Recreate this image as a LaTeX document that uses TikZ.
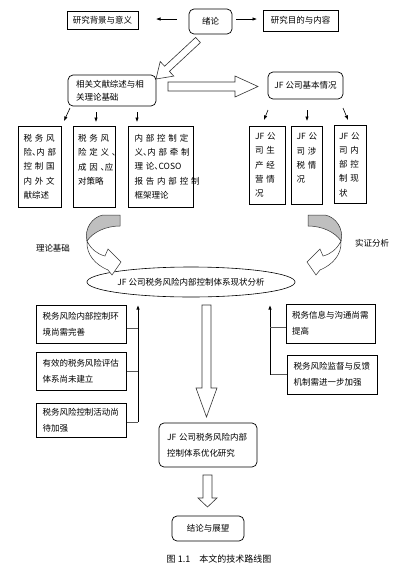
\documentclass[tikz,border=0pt]{standalone}
\usepackage{fontspec}
\setmainfont{Noto Sans CJK SC}
\usetikzlibrary{arrows.meta,shapes.geometric,calc}
\newcommand\jl[2]{\makebox[#1][s]{#2}}
\newcommand\dun{\makebox[.5em][l]{、}}
\begin{document}
\begin{tikzpicture}[x=1pt,y=-1pt,
  every node/.style={font=\fontsize{8.5}{12}\selectfont, inner sep=0pt},
  rbox/.style={draw, rounded corners=5pt, line width=0.7pt},
  sbox/.style={draw, line width=1pt},
  vbox/.style={draw, line width=1pt, align=left, font=\fontsize{8.5}{14.3}\selectfont},
  lbox/.style={draw, line width=1pt, align=left, font=\fontsize{8.5}{15.7}\selectfont},
  conn/.style={line width=0.6pt, -{Latex[length=4.5pt,width=3.5pt]}},
  lnk/.style={line width=1pt, draw=black!65},
  blk/.style={draw=black!80, line width=0.6pt, fill=white, line join=miter},
  curlgray/.style={draw=black!80, line width=0.5pt, fill=black!25},
  curlwhite/.style={draw=black!80, line width=0.5pt, fill=white},
]
\useasboundingbox (0,0) rectangle (408,574);

% top row
\node[rbox, minimum width=43pt, minimum height=25pt] (xulun) at (210.5,21.5) {绪论};
\node[sbox, minimum width=71pt, minimum height=18pt] (bg) at (102.5,20) {研究背景与意义};
\node[sbox, minimum width=75pt, minimum height=21pt] (goal) at (300.5,20.5) {研究目的与内容};
\coordinate (a1s) at (177,19); \coordinate (a1e) at (156,19);
\coordinate (a2s) at (236,19); \coordinate (a2e) at (257,19);
\draw[conn] (a1s) -- (a1e);
\draw[conn] (a2s) -- (a2e);

% diagonal hollow arrow
\draw[blk] (195.6,37.4) -- (164.6,66.2) -- (160.2,61.5) -- (156,79) -- (173.8,76.1) -- (169.4,71.4) -- (200.4,42.6) -- cycle;

% second row
\node[rbox, minimum width=88pt, minimum height=31pt, text width=72pt, align=left,
      font=\fontsize{8.5}{12.5}\selectfont] (lit) at (112,90.5) {相关文献综述与相\\关理论基础};
\node[rbox, minimum width=75pt, minimum height=27pt] (jf) at (305.5,85.5) {JF 公司基本情况};
\draw[blk] (168,82) -- (235,82) -- (235,76) -- (258,86.5) -- (235,97) -- (235,91) -- (168,91) -- cycle;

% small arrows
\coordinate (s1a) at (70,108);  \coordinate (s1b) at (64,121);
\coordinate (s2a) at (96,112);  \coordinate (s2b) at (96,122);
\coordinate (s3a) at (137,112); \coordinate (s3b) at (137,122);
\coordinate (s4a) at (268,110); \coordinate (s4b) at (264,120);
\coordinate (s5a) at (307,110); \coordinate (s5b) at (307,121);
\coordinate (s6a) at (343,108); \coordinate (s6b) at (348,120);
\foreach \i in {1,...,6} {\draw[conn] (s\i a) -- (s\i b);}

% vertical boxes
\node[vbox, minimum width=43pt, minimum height=81pt, text width=32pt] (v1) at (39.5,166.5)
  {\jl{32pt}{税 务 风}\\\jl{32pt}{险\dun 内 部}\\\jl{32pt}{控 制 国}\\\jl{32pt}{内 外 文}\\献综述};
\node[vbox, minimum width=42pt, minimum height=81pt, text width=32pt] (v2) at (94,166.5)
  {\jl{32pt}{税 务 风}\\\jl{32pt}{险 定 义 \dun}\\\jl{32pt}{成 因 \dun 应}\\对策略\\\mbox{}};
\node[vbox, minimum width=65pt, minimum height=81pt, text width=52pt] (v3) at (160.5,166.5)
  {\jl{52pt}{内 部 控 制 定}\\\jl{52pt}{义\dun 内 部 牵 制}\\\jl{52pt}{理 论\dun COSO}\\\jl{52pt}{报 告 内 部 控 制}\\框架理论};
\node[vbox, minimum width=36pt, minimum height=78pt, text width=24pt] (v4) at (267,165)
  {\jl{24pt}{JF 公}\\\jl{24pt}{司 生}\\\jl{24pt}{产 经}\\\jl{24pt}{营 情}\\况};
\node[vbox, minimum width=31pt, minimum height=78pt, text width=20pt] (v5) at (306.5,165)
  {\jl{20pt}{JF 公}\\\jl{20pt}{司 涉}\\\jl{20pt}{税 情}\\况\\\mbox{}};
\node[vbox, minimum width=32pt, minimum height=78pt, text width=22pt] (v6) at (350,164.5)
  {\jl{22pt}{JF 公}\\\jl{22pt}{司 内}\\\jl{22pt}{部 控}\\\jl{22pt}{制 现}\\状};

% ellipse
\node[ellipse, draw, line width=0.6pt, minimum width=182pt, minimum height=30pt] (ell) at (191,282)
  {JF 公司税务风险内部控制体系现状分析};

% curved arrows
\draw[curlgray] (103,215) -- (120,215) -- (120,226) .. controls (106,226) and (93,232) .. (87,241)
  .. controls (84,229) and (92,217) .. (103,215) -- cycle;
\draw[curlwhite] (87,241) .. controls (86,255) and (96,265) .. (108,270) -- (112,275) -- (121,262)
  -- (108,249) -- (105,256) .. controls (97,254) and (91,249) .. (87,241) -- cycle;
\begin{scope}[shift={(428,0)}, xscale=-1]
\draw[curlgray] (103,215) -- (120,215) -- (120,226) .. controls (106,226) and (93,232) .. (87,241)
  .. controls (84,229) and (92,217) .. (103,215) -- cycle;
\draw[curlwhite] (87,241) .. controls (86,255) and (96,265) .. (108,270) -- (112,275) -- (121,262)
  -- (108,249) -- (105,256) .. controls (97,254) and (91,249) .. (87,241) -- cycle;
\end{scope}
\node (lt) at (53,248) {理论基础};
\node (sz) at (372,243) {实证分析};

% lower left boxes
\node[lbox, minimum width=90pt, minimum height=38pt, text width=77pt] (l1) at (81,324)
  {税务风险内部控制环\\境尚需完善};
\node[lbox, minimum width=90pt, minimum height=38pt, text width=77pt] (l2) at (81,371)
  {有效的税务风险评估\\体系尚未建立};
\node[lbox, minimum width=90pt, minimum height=34pt, text width=77pt] (l3) at (81,420)
  {税务风险控制活动尚\\待加强};
\coordinate (ltop) at (138,305);
\coordinate (lbot) at (138,422);
\draw[lnk] (l3.east |- lbot) -- (lbot);
\draw[lnk, -{Latex[length=4.5pt,width=3.5pt]}, draw=black] (lbot) -- (ltop);
\draw[lnk] ($(l1.east)+(0,4)$) -- ($(ltop|-l1.east)+(0,4)$);
\draw[lnk] (l2.east) -- (l2.east -| ltop);

% lower right boxes
\node[lbox, minimum width=89pt, minimum height=39pt, text width=77pt] (r1) at (330.5,323.5)
  {税务信息与沟通尚需\\提高};
\node[lbox, minimum width=90pt, minimum height=39pt, text width=77pt] (r2) at (332,374.5)
  {税务风险监督与反馈\\机制需进一步加强};
\coordinate (rtop) at (270,305);
\coordinate (rbot) at (270,374.5);
\draw[lnk] (r2.west) -- (rbot);
\draw[lnk, -{Latex[length=4.5pt,width=3.5pt]}, draw=black] (rbot) -- (rtop);
\draw[lnk] ($(r1.west)+(0,4)$) -- ($(rtop|-r1.west)+(0,4)$);

% big down arrow
\draw[blk] (202,305) -- (211,305) -- (211,388) -- (217,388) -- (206.5,417) -- (196,388) -- (202,388) -- cycle;

\node[rbox, minimum width=98pt, minimum height=44pt, text width=82pt, align=left,
      font=\fontsize{8.5}{16}\selectfont] (opt) at (208,445) {JF 公司税务风险内部\\控制体系优化研究};
\draw[blk] (203,475) -- (212,475) -- (212,498) -- (217,498) -- (207.5,507) -- (198,498) -- (203,498) -- cycle;
\node[rbox, minimum width=72pt, minimum height=25pt] (conc) at (208,528.5) {结论与展望};
\node[font=\fontsize{9}{11}\selectfont] (cap) at (219,559) {图 1.1\quad 本文的技术路线图};
\end{tikzpicture}
\end{document}
